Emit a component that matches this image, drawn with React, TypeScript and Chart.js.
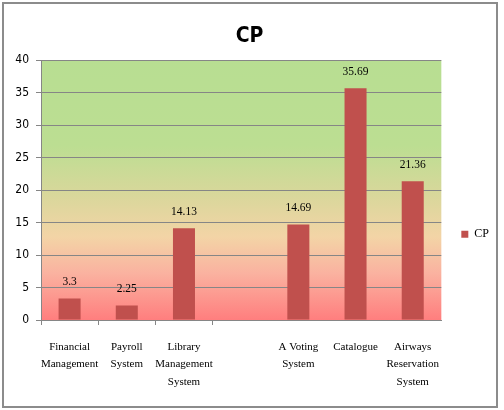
import { useEffect, useRef } from 'react';
import { Chart, registerables } from 'chart.js';

Chart.register(...registerables);

// Systems compared (one slot intentionally left blank)
const categories: (string | string[])[] = [
  ['Financial', 'Management'],
  ['Payroll', 'System'],
  ['Library', 'Management', 'System'],
  '',
  ['A Voting', 'System'],
  'Catalogue',
  ['Airways', 'Reservation', 'System'],
];

// CP values per system
const cpValues: (number | null)[] = [3.3, 2.25, 14.13, null, 14.69, 35.69, 21.36];

const yMin = 0;
const yMax = 40;
const yStep = 5;

const BAR_RED = '#c0504d';
const GRID_GRAY = '#868686';

// Green-to-red wash behind the plot area, plus the outer frame
const backdrop = {
  id: 'backdrop',
  beforeDraw(chart: any) {
    const { ctx, chartArea: a } = chart;
    ctx.save();
    ctx.fillStyle = '#ffffff';
    ctx.fillRect(0, 0, chart.width, chart.height);
    const g = ctx.createLinearGradient(0, a.top, 0, a.bottom);
    g.addColorStop(0, '#b8de92');
    g.addColorStop(0.33, '#bcde92');
    g.addColorStop(0.52, '#d9d79b');
    g.addColorStop(0.68, '#f3d4a6');
    g.addColorStop(0.82, '#fab2a0');
    g.addColorStop(1, '#ff7e7e');
    ctx.fillStyle = g;
    ctx.fillRect(a.left, a.top, a.right - a.left, a.bottom - a.top);
    ctx.restore();
  },
  afterDraw(chart: any) {
    const { ctx } = chart;
    ctx.save();
    ctx.strokeStyle = '#8c8c8c';
    ctx.lineWidth = 2;
    ctx.strokeRect(3, 3, 494, 404);
    ctx.restore();
  },
};

// Value printed above each bar
const valueLabels = {
  id: 'valueLabels',
  afterDatasetsDraw(chart: any) {
    const { ctx } = chart;
    const meta = chart.getDatasetMeta(0);
    ctx.save();
    ctx.fillStyle = '#000000';
    ctx.font = '11.5px "Liberation Serif", serif';
    ctx.textAlign = 'center';
    ctx.textBaseline = 'middle';
    meta.data.forEach((bar: any, i: number) => {
      const v = cpValues[i];
      if (v == null) return;
      ctx.fillText(String(v), bar.x, bar.y - 16.5);
    });
    ctx.restore();
  },
};

export default function App() {
  const canvasRef = useRef<HTMLCanvasElement | null>(null);

  useEffect(() => {
    const canvas = canvasRef.current;
    if (!canvas) return;
    const chart = new Chart(canvas, {
      type: 'bar',
      data: {
        labels: categories,
        datasets: [
          {
            label: 'CP',
            data: cpValues,
            backgroundColor: BAR_RED,
            borderWidth: 0,
            categoryPercentage: 1,
            barPercentage: 0.385,
          },
        ],
      },
      options: {
        animation: false,
        responsive: false,
        devicePixelRatio: 1,
        layout: { padding: { left: 0, right: 5, top: 0, bottom: 4 } },
        plugins: {
          title: {
            display: true,
            text: 'CP',
            color: '#000000',
            font: { family: '"DejaVu Sans Condensed", "DejaVu Sans", sans-serif', size: 21, weight: 'bold', lineHeight: 1.2 },
            padding: { top: 24, bottom: 11 },
          },
          legend: {
            display: true,
            position: 'right',
            title: { display: true, text: '', padding: { top: 48, bottom: 0 } },
            labels: {
              boxWidth: 7,
              boxHeight: 7,
              padding: 20,
              color: '#000000',
              font: { family: '"Liberation Serif", serif', size: 12 },
            },
          },
          tooltip: { enabled: false },
        },
        scales: {
          x: {
            afterFit: (s: any) => {
              s.height = 86;
            },
            grid: {
              offset: true,
              drawOnChartArea: false,
              drawTicks: true,
              tickLength: 5,
              color: (c: any) => (c.index <= 3 ? GRID_GRAY : 'rgba(0,0,0,0)'),
            },
            border: { display: true, color: GRID_GRAY, width: 1 },
            ticks: {
              color: '#000000',
              padding: 13,
              maxRotation: 0,
              autoSkip: false,
              font: { family: '"Liberation Serif", serif', size: 11, lineHeight: 1.6 },
            },
          },
          y: {
            min: yMin,
            max: yMax,
            afterFit: (s: any) => {
              s.width = 41;
            },
            grid: { color: GRID_GRAY, lineWidth: 1, drawTicks: true, tickLength: 5 },
            border: { display: true, color: GRID_GRAY, width: 1 },
            ticks: {
              stepSize: yStep,
              padding: 7,
              color: '#000000',
              font: { family: '"DejaVu Sans Condensed", sans-serif', size: 12 },
            },
          },
        },
      },
      plugins: [backdrop, valueLabels],
    });
    return () => chart.destroy();
  }, []);

  return (
    <div style={{ position: 'absolute', left: 0, top: 0, width: 504, height: 410 }}>
      <canvas ref={canvasRef} width={504} height={410} style={{ display: 'block' }} />
    </div>
  );
}
